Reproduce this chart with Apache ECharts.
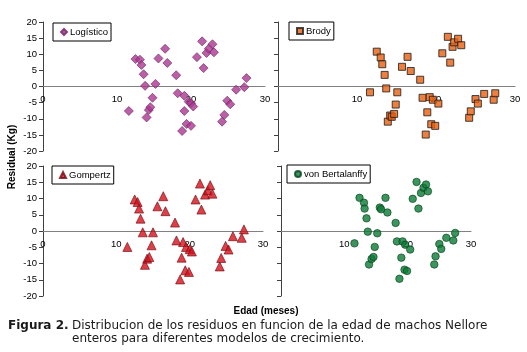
<!DOCTYPE html>
<html>
<head>
<meta charset="utf-8">
<script src="https://cdn.jsdelivr.net/npm/echarts@6/dist/echarts.min.js"></script>
<style>
  html, body { margin: 0; padding: 0; background: #fff; }
  #chart { width: 527px; height: 352px; }
</style>
</head>
<body>
<div id="chart"></div>
<script>
// edad (meses) y residual (Kg)
const logX = [11.6, 12.5, 13.1, 13.3, 13.6, 13.8, 14.0, 14.3, 14.5, 14.8, 15.2, 15.6, 16.5, 16.8, 18.0, 18.2, 18.8, 19.1, 19.1, 19.4, 19.7, 20.0, 20.0, 20.3, 20.8, 21.5, 21.7, 22.1, 22.4, 22.9, 23.1, 24.2, 24.5, 24.9, 25.3, 26.1, 27.2, 27.5];
const logY = [-7.6, 8.5, 8.3, 6.7, 3.8, 0.2, -9.6, -7.3, -6.4, -3.5, 0.8, 8.7, 11.7, 7.3, 3.5, -2.1, -13.8, -2.9, -7.6, -11.6, -4.7, -12.2, -5.2, -6.2, 9.1, 14.0, 5.7, 10.4, 11.7, 13.1, 10.6, -10.9, -8.8, -4.4, -5.5, -1.0, -0.2, 2.6];

const brodyX = [11.65, 12.5, 13.0, 13.2, 13.5, 13.7, 13.9, 14.2, 14.4, 14.7, 14.9, 15.1, 15.7, 16.4, 16.8, 18.0, 18.3, 18.7, 18.9, 19.2, 19.4, 19.6, 19.9, 20.3, 20.8, 21.5, 21.8, 22.1, 22.3, 22.8, 23.2, 24.2, 24.4, 25.0, 25.3, 26.1, 27.3, 27.5];
const brodyY = [-1.8, 10.8, 9.0, 6.9, 3.6, -0.6, -10.9, -9.0, -9.4, -8.5, -5.6, -1.8, 6.1, 9.2, 4.8, 2.1, -3.5, -14.9, -8.0, -3.3, -11.7, -4.1, -12.2, -5.3, 10.3, 15.4, 7.4, 12.3, 13.7, 14.8, 12.8, -9.7, -7.7, -3.9, -5.3, -2.3, -4.1, -2.1];

const gompX = [11.5, 12.5, 12.9, 13.1, 13.3, 13.6, 13.9, 14.2, 14.5, 14.8, 15.0, 15.6, 16.4, 16.7, 18.0, 18.2, 18.7, 18.9, 19.1, 19.4, 19.5, 19.9, 20.0, 20.3, 20.8, 21.4, 21.6, 22.1, 22.5, 22.8, 23.1, 24.1, 24.3, 24.9, 25.3, 25.9, 27.1, 27.4];
const gompY = [-4.9, 9.7, 8.9, 6.9, 3.8, -0.4, -10.4, -8.5, -8.0, -4.4, -0.4, 7.6, 10.7, 6.1, 2.6, -2.9, -14.9, -8.2, -3.4, -12.1, -4.9, -12.6, -5.6, -6.3, 9.7, 14.6, 6.6, 11.2, 12.5, 14.1, 11.5, -10.9, -8.3, -4.6, -5.7, -1.6, -2.1, 0.5];

const vbX = [11.6, 12.4, 13.1, 13.2, 13.5, 13.7, 13.9, 14.3, 14.6, 14.8, 15.2, 15.6, 15.8, 16.5, 16.8, 18.1, 18.3, 18.7, 19.0, 19.2, 19.5, 19.6, 19.9, 20.4, 20.8, 21.4, 21.7, 22.1, 22.5, 22.9, 23.2, 24.2, 24.4, 25.0, 25.3, 26.1, 27.2, 27.5];
const vbY = [-3.8, 10.2, 8.7, 6.9, 3.9, -0.2, -10.3, -8.6, -8.0, -4.9, -0.7, 7.2, 6.7, 10.2, 5.7, 2.5, -3.2, -14.7, -8.2, -3.2, -11.9, -4.2, -12.3, -5.7, 9.9, 15.1, 6.9, 11.7, 13.3, 14.3, 12.2, -10.3, -7.8, -4.0, -5.5, -2.1, -2.9, -0.6];

const modelos = ['Logístico', 'Brody', 'Gompertz', 'von Bertalanffy'];
const xTicks = { min: 0, max: 30, interval: 10 };
const yTicks = { min: -20, max: 20, interval: 5 };

const pares = (xs, ys) => xs.map((x, i) => [x, ys[i]]);

const chart = echarts.init(document.getElementById('chart'));

const grids = [
  { left: 43, top: 22, width: 222, height: 129 },
  { left: 278, top: 22, width: 237, height: 129 },
  { left: 43, top: 166, width: 220, height: 130 },
  { left: 281, top: 166, width: 190, height: 130 },
];

const estilos = [
  { symbol: 'diamond', symbolSize: 9, itemStyle: { color: '#aa3890', borderColor: '#6e2260', borderWidth: 0.8 } },
  { symbol: 'rect', symbolSize: 7, itemStyle: { color: '#e8600f', borderColor: '#1a1a1a', borderWidth: 1 } },
  { symbol: 'triangle', symbolSize: 9, itemStyle: { color: '#d3101c', borderColor: '#70080e', borderWidth: 0.8 } },
  { symbol: 'circle', symbolSize: 7.5, itemStyle: { color: '#0c7a36', borderColor: '#06401c', borderWidth: 0.8 } },
];

const datos = [pares(logX, logY), pares(brodyX, brodyY), pares(gompX, gompY), pares(vbX, vbY)];

const leyendas = [
  { left: 53, top: 23 },
  { left: 289, top: 22 },
  { left: 52, top: 166 },
  { left: 287, top: 165 },
];

const font = 'Liberation Sans, Arial, sans-serif';
const captionFont = 'DejaVu Sans, Verdana, sans-serif';

const option = {
  animation: false,
  backgroundColor: '#fff',
  grid: grids,
  // eje x cruzando en y = 0 (mitad de la rejilla)
  xAxis: grids.map((g, i) => ({
    gridIndex: i,
    type: 'value',
    ...xTicks,
    offset: -g.height / 2,
    axisLine: { onZero: false, lineStyle: { color: '#808080', width: 1 } },
    axisTick: { show: false },
    splitLine: { show: false },
    axisLabel: {
      fontSize: 9.5, color: '#000', fontFamily: font, margin: 8,
      showMinLabel: i % 2 === 0,
    },
  })),
  yAxis: grids.map((g, i) => ({
    gridIndex: i,
    type: 'value',
    ...yTicks,
    axisLine: { show: true, onZero: false, lineStyle: { color: '#404040', width: 1 } },
    axisTick: { show: true, length: 4, lineStyle: { color: '#404040' } },
    splitLine: { show: false },
    axisLabel: { show: i % 2 === 0, fontSize: 9.5, color: '#000', fontFamily: font, margin: 6 },
  })),
  legend: leyendas.map((p, i) => ({
    ...p,
    data: [modelos[i]],
    orient: 'horizontal',
    backgroundColor: '#fff',
    borderColor: '#000',
    borderWidth: 1,
    borderRadius: 0,
    padding: [4, 3, 4, 7],
    itemWidth: 6,
    itemHeight: 6,
    itemGap: 2,
    selectedMode: false,
    textStyle: { fontSize: 9.5, color: '#000', fontFamily: font, padding: [0, 0, 0, -2] },
  })),
  series: datos.map((d, i) => ({
    name: modelos[i],
    type: 'scatter',
    xAxisIndex: i,
    yAxisIndex: i,
    data: d,
    ...estilos[i],
  })),
  graphic: [
    {
      type: 'text', x: 12, y: 157, rotation: Math.PI / 2,
      style: { text: 'Residual (Kg)', font: 'bold 10px ' + font, fill: '#000', align: 'center', verticalAlign: 'middle' },
    },
    {
      type: 'text', x: 266, y: 311,
      style: { text: 'Edad (meses)', font: 'bold 10px ' + font, fill: '#000', align: 'center', verticalAlign: 'middle' },
    },
    {
      type: 'text', x: 8, y: 326,
      style: { text: 'Figura 2.', font: 'bold 12px ' + captionFont, fill: '#1a1a1a', verticalAlign: 'middle' },
    },
    {
      type: 'text', x: 72, y: 326,
      style: { text: 'Distribucion de los residuos en funcion de la edad de machos Nellore', font: '12px ' + captionFont, fill: '#1a1a1a', verticalAlign: 'middle' },
    },
    {
      type: 'text', x: 72, y: 339,
      style: { text: 'enteros para diferentes modelos de crecimiento.', font: '12px ' + captionFont, fill: '#1a1a1a', verticalAlign: 'middle' },
    },
  ],
};

chart.setOption(option);
</script>
</body>
</html>
